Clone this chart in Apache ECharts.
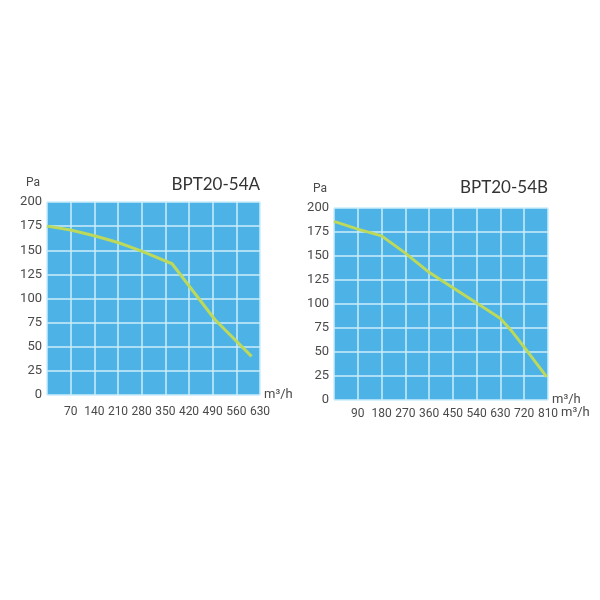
<!DOCTYPE html>
<html>
<head>
<meta charset="utf-8">
<script src="https://cdn.jsdelivr.net/npm/echarts@6/dist/echarts.min.js"></script>
<style>
  html, body { margin: 0; padding: 0; background: #fff; }
  #chart { width: 600px; height: 600px; }
</style>
</head>
<body>
<div id="chart"></div>
<script>
// fan curves, pressure (Pa) vs airflow (m³/h)
var titleA = 'BPT20-54A';
var titleB = 'BPT20-54B';
var xTicksA = [70, 140, 210, 280, 350, 420, 490, 560, 630];
var xTicksB = [90, 180, 270, 360, 450, 540, 630, 720, 810];
var yTicks = [0, 25, 50, 75, 100, 125, 150, 175, 200];

var curveA = [[0, 175], [70, 171], [140, 165], [210, 158], [280, 149], [370, 136], [497, 78], [605, 40]];
var curveB = [[0, 186], [90, 178], [180, 171], [270, 153], [360, 133], [450, 117], [540, 101], [630, 85], [675, 71], [720, 55], [805, 24]];

var blue = '#4db2e6';
var gridCol = '#cdecfb';
var lineCol = '#bcd95a';
var textCol = '#4a4a4a';
var font = 'Roboto';

function xAxisFor(gridIndex, ticks, margin) {
  var step = ticks[1] - ticks[0];
  return {
    type: 'value', gridIndex: gridIndex,
    min: 0, max: ticks[ticks.length - 1], interval: step,
    name: 'm³/h', nameLocation: 'end', nameGap: 4,
    nameTextStyle: { color: textCol, fontSize: 13, fontFamily: font, padding: [0, 0, 6, 0] },
    axisLine: { show: false }, axisTick: { show: false },
    axisLabel: {
      color: textCol, fontSize: 12, fontFamily: font, margin: margin,
      showMaxLabel: true, hideOverlap: false,
      formatter: function (v) { return v === 0 ? '' : String(v); }
    },
    splitLine: { show: true, lineStyle: { color: gridCol, width: 1.5 } }
  };
}

function yAxisFor(gridIndex) {
  return {
    type: 'value', gridIndex: gridIndex,
    min: yTicks[0], max: yTicks[yTicks.length - 1], interval: yTicks[1] - yTicks[0],
    name: 'Pa', nameLocation: 'end', nameGap: 13,
    nameTextStyle: { color: textCol, fontSize: 12, fontFamily: font, align: 'right', padding: [0, 7, 0, 0] },
    axisLine: { show: false }, axisTick: { show: false },
    axisLabel: { color: textCol, fontSize: 13, fontFamily: font, margin: 5 },
    splitLine: { show: true, lineStyle: { color: gridCol, width: 1.5 } }
  };
}

var chart = echarts.init(document.getElementById('chart'));
chart.setOption({
  animation: false,
  backgroundColor: '#fff',
  title: [
    { text: titleA, right: 340, top: 176, padding: 0, textStyle: { color: '#333', fontSize: 17, fontWeight: 'normal', fontFamily: 'Lato' } },
    { text: titleB, right: 52, top: 179, padding: 0, textStyle: { color: '#333', fontSize: 17, fontWeight: 'normal', fontFamily: 'Lato' } }
  ],
  grid: [
    { left: 47, top: 202, width: 213, height: 193, show: true, backgroundColor: blue, borderWidth: 0 },
    { left: 334, top: 208, width: 214, height: 192, show: true, backgroundColor: blue, borderWidth: 0 }
  ],
  xAxis: [xAxisFor(0, xTicksA, 11), xAxisFor(1, xTicksB, 8)],
  yAxis: [yAxisFor(0), yAxisFor(1)],
  graphic: [
    { type: 'text', left: 561, top: 406, style: { text: 'm³/h', fill: textCol, fontSize: 13, fontFamily: font } }
  ],
  series: [
    { type: 'line', xAxisIndex: 0, yAxisIndex: 0, data: curveA, symbol: 'none',
      lineStyle: { color: lineCol, width: 3 } },
    { type: 'line', xAxisIndex: 1, yAxisIndex: 1, data: curveB, symbol: 'none',
      lineStyle: { color: lineCol, width: 3 } }
  ]
});
</script>
</body>
</html>
